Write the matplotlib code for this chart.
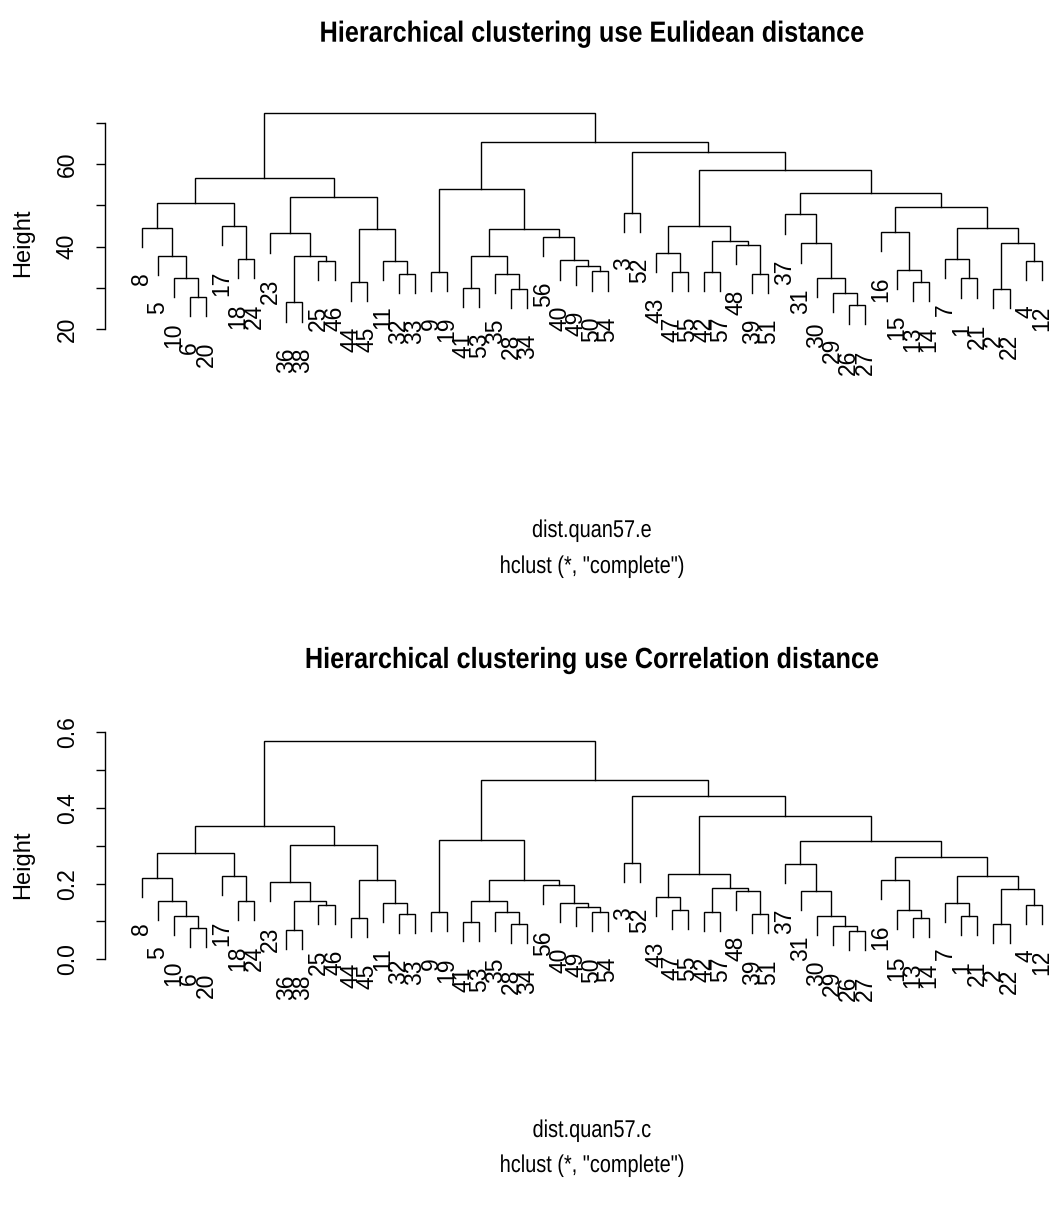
import matplotlib.pyplot as plt
from matplotlib import transforms
from matplotlib.patheffects import AbstractPathEffect
import numpy as np

W, H, DPI = 1051, 1205, 100

# leaf order along the x axis (observation numbers)
leaf_order = [8, 5, 10, 6, 20, 17, 18, 24, 23, 36, 38, 25, 46, 44, 45, 11, 32, 33,
              9, 19, 41, 53, 35, 28, 34, 56, 40, 49, 50, 54, 3, 52, 43, 47, 55,
              42, 57, 48, 39, 51, 37, 31, 30, 29, 26, 27, 16, 15, 13, 14, 7, 1,
              21, 2, 22, 4, 12]

# merge steps, R style: negative = observation, positive = earlier merge (1-based)
merges = [(-6, -20), (-10, 1), (-5, 2), (-8, 3), (-18, -24), (-17, 5), (4, 6),
          (-36, -38), (-25, -46), (8, 9), (-23, 10), (-44, -45), (-32, -33),
          (-11, 13), (12, 14), (11, 15), (7, 16), (-9, -19), (-41, -53),
          (-28, -34), (-35, 20), (19, 21), (-50, -54), (-49, 23), (-40, 24),
          (-56, 25), (22, 26), (18, 27), (-3, -52), (-47, -55), (-43, 30),
          (-42, -57), (-39, -51), (-48, 33), (32, 34), (31, 35), (-26, -27),
          (-29, 37), (-30, 38), (-31, 39), (-37, 40), (-13, -14), (-15, 42),
          (-16, 43), (-1, -21), (-7, 45), (-2, -22), (-4, -12), (47, 48),
          (46, 49), (44, 50), (41, 51), (36, 52), (29, 53), (28, 54), (17, 55)]

# merge heights, euclidean distance
heights_e = [27.9, 32.5, 37.7, 44.6, 37.0, 45.1, 50.65, 26.5, 36.6, 37.7, 43.2,
             31.5, 33.5, 36.6, 44.3, 52.0, 56.6, 33.9, 30.1, 29.8, 33.5, 37.7,
             34.0, 35.4, 36.7, 42.4, 44.3, 53.9, 48.2, 33.9, 38.5, 33.9, 33.5,
             40.4, 41.3, 45.1, 25.9, 28.9, 32.5, 40.8, 47.8, 31.5, 34.4, 43.6,
             32.3, 37.1, 29.7, 36.6, 40.8, 44.6, 49.7, 52.9, 58.6, 62.8, 65.4, 72.4]

# merge heights, correlation distance
heights_c = [0.083, 0.1145, 0.154, 0.215, 0.154, 0.221, 0.282, 0.078, 0.1435,
             0.154, 0.205, 0.108, 0.119, 0.1497, 0.2096, 0.302, 0.352, 0.124,
             0.0994, 0.0933, 0.124, 0.154, 0.124, 0.139, 0.1497, 0.1956, 0.2096,
             0.316, 0.2554, 0.1295, 0.1647, 0.124, 0.119, 0.18, 0.189, 0.2263,
             0.074, 0.088, 0.1145, 0.18, 0.252, 0.109, 0.1295, 0.2096, 0.1137,
             0.1497, 0.094, 0.144, 0.185, 0.221, 0.271, 0.312, 0.378, 0.4325,
             0.474, 0.5769]

plt.rcParams['font.family'] = ['Liberation Sans', 'DejaVu Sans']


class Squash(AbstractPathEffect):
    """Narrow the glyphs horizontally around x = cx (display pixels)."""

    def __init__(self, sx, cx):
        super().__init__()
        self.sx, self.cx = sx, cx

    def draw_path(self, renderer, gc, tpath, affine, rgbFace=None):
        squeeze = transforms.Affine2D().translate(-self.cx, 0).scale(self.sx, 1).translate(self.cx, 0)
        renderer.draw_path(gc, tpath, affine + squeeze, rgbFace)


def draw_dendrogram(ax, heights):
    heights = np.asarray(heights)
    hang = 0.1 * (heights.max() - heights.min())
    pos = {lab: i + 1 for i, lab in enumerate(leaf_order)}
    lab_tr = transforms.offset_copy(ax.transData, fig=ax.figure, y=-18.5, units='points')
    node_x = []
    for k, (a, b) in enumerate(merges):
        h = heights[k]
        xs, ys = [], []
        for c in (a, b):
            if c < 0:
                x, y = pos[-c], h - hang
                ax.text(x, y, str(-c), rotation=90, ha='center', va='top',
                        fontsize=16.5, transform=lab_tr, clip_on=False)
            else:
                x, y = node_x[c - 1], heights[c - 1]
            xs.append(x)
            ys.append(y)
        ax.plot([xs[0], xs[0], xs[1], xs[1]], [ys[0], h, h, ys[1]],
                color='black', lw=1.0, clip_on=False, solid_joinstyle='miter')
        node_x.append((xs[0] + xs[1]) / 2)


def setup_axes(ax, ticks, shown, fmt):
    for s in ('top', 'right', 'bottom'):
        ax.spines[s].set_visible(False)
    ax.spines['left'].set_bounds(ticks[0], ticks[-1])
    ax.spines['left'].set_linewidth(1.0)
    ax.set_xticks([])
    ax.set_yticks(ticks)
    ax.set_yticklabels([fmt(t) if t in shown else '' for t in ticks],
                       rotation=90, va='center', fontsize=16.5)
    ax.tick_params(axis='y', length=6.8, width=1.0, pad=12)
    ax.set_xlim(-1.28, 57.58)


fig = plt.figure(figsize=(W / DPI, H / DPI), dpi=DPI)
CX = 591.7


def px_axes(top, bottom):
    return fig.add_axes([105 / W, 1 - bottom / H, (W - 105) / W, (bottom - top) / H])


def fig_text(y, s, sx, **kw):
    fig.text(CX / W, 1 - y / H, s, ha='center', va='baseline',
             path_effects=[Squash(sx, CX)], **kw)


# top: euclidean
ax1 = px_axes(100, 340)
draw_dendrogram(ax1, heights_e)
ax1.set_ylim(20 + (329.3 - 340) / 4.132, 20 + (329.3 - 100) / 4.132)
setup_axes(ax1, [20, 30, 40, 50, 60, 70], [20, 40, 60], lambda t: f'{t}')
fig.text(23.5 / W, 1 - 243 / H, 'Height', rotation=90, ha='center', va='center', fontsize=17)
fig_text(41.7, 'Hierarchical clustering use Eulidean distance', 0.866,
         fontsize=21, fontweight='bold')
fig_text(537, 'dist.quan57.e', 0.82, fontsize=17.5)
fig_text(573, 'hclust (*, "complete")', 0.82, fontsize=17.5)

# bottom: correlation
ax2 = px_axes(727, 965)
draw_dendrogram(ax2, heights_c)
ax2.set_ylim((959.3 - 965) / 378.3, (959.3 - 727) / 378.3)
ticks_c = [0.0, 0.1, 0.2, 0.3, 0.4, 0.5, 0.6]
setup_axes(ax2, ticks_c, [0.0, 0.2, 0.4, 0.6], lambda t: f'{t:.1f}')
fig.text(23.5 / W, 1 - 865 / H, 'Height', rotation=90, ha='center', va='center', fontsize=17)
fig_text(668, 'Hierarchical clustering use Correlation distance', 0.866,
         fontsize=21, fontweight='bold')
fig_text(1137, 'dist.quan57.c', 0.82, fontsize=17.5)
fig_text(1172, 'hclust (*, "complete")', 0.82, fontsize=17.5)

fig.savefig('out.png', dpi=DPI)
